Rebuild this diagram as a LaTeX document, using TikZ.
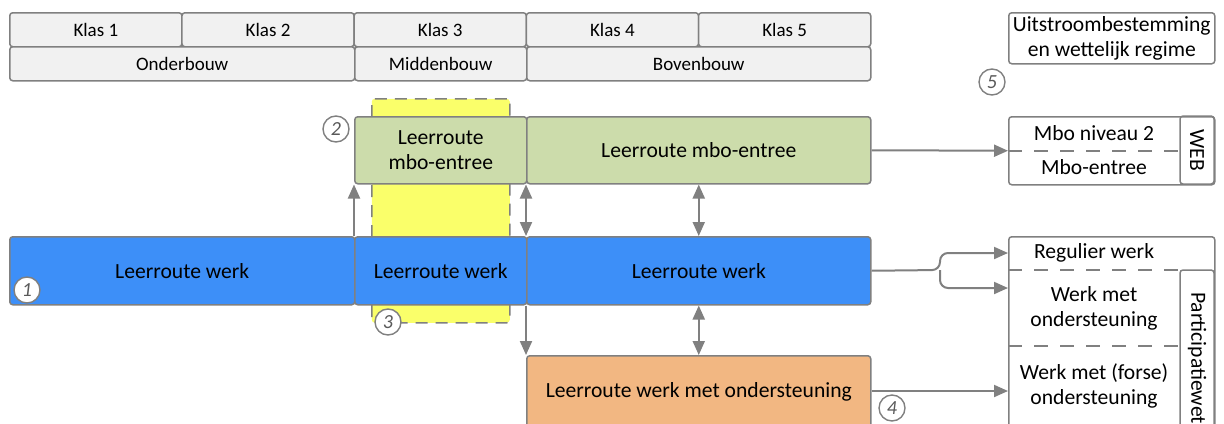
\documentclass[tikz,border=0pt]{standalone}
\usepackage{fontspec}
\setmainfont{Carlito}
\usetikzlibrary{arrows.meta,% filled triangle tips
calc}
\definecolor{rim}{HTML}{808080}
\definecolor{hdrgray}{HTML}{F1F1F1}
\definecolor{routegroen}{HTML}{CCDCAB}
\definecolor{routeblauw}{HTML}{3D8FF8}
\definecolor{routeoranje}{HTML}{F2B782}
\definecolor{routegeel}{HTML}{FAFF6A}
\tikzset{every node/.style={font=\fontsize{10.8}{12.5}\selectfont},
  >={Triangle[length=7pt,width=6pt]},
  sz/.style 2 args={minimum width=#1*0.5pt, minimum height=#2*0.5pt},
  box/.style={draw=rim, line width=0.75pt, rounded corners=1.5pt,
    anchor=north west, inner sep=0pt, align=center},
  hdr/.style={box, fill=hdrgray, font=\fontsize{9.5}{11}\selectfont},
  txt/.style={align=center, inner sep=0pt},
  col/.style={draw=rim, line width=0.75pt, rounded corners=1.5pt,
    inner sep=0pt, rotate=-90},
  sep/.style={draw=rim, line width=0.75pt, dash pattern=on 7pt off 6pt},
  pijl/.style={draw=rim, line width=1pt},
  nr/.style={circle, draw=rim, fill=white, line width=0.7pt, inner sep=0pt,
    minimum size=13pt, text=black!65, font=\fontsize{10}{10}\selectfont\itshape}}

\begin{document}
\begin{tikzpicture}[x=0.5pt,y=-0.5pt]
\useasboundingbox (0,0) rectangle (1224,423);
% header
\foreach \i in {1,...,5}
  \node[hdr, sz={172.2}{34}] (k\i) at ({9+172.2*(\i-1)},12) {Klas \i};
\node[hdr, sz={345}{34}] (onder) at (9,46) {Onderbouw};
\node[hdr, sz={172}{34}] (midden) at (354,46) {Middenbouw};
\node[hdr, sz={344}{34}] (boven) at (526,46) {Bovenbouw};
% yellow band behind klas 3
\node[box, sep, dash pattern=on 6pt off 4pt, fill=routegeel, sz={138}{224}] (geel) at (371,98) {};
% routes
\node[box, fill=routegroen, sz={172}{67}] (g1) at (354,116) {Leerroute\\mbo-entree};
\node[box, fill=routegroen, sz={344}{67}] (g2) at (526,116) {Leerroute mbo-entree};
\node[box, fill=routeblauw, sz={345}{68}] (b1) at (9,236) {Leerroute werk};
\node[box, fill=routeblauw, sz={172}{68}] (b2) at (354,236) {Leerroute werk};
\node[box, fill=routeblauw, sz={344}{68}] (b3) at (526,236) {Leerroute werk};
\node[box, fill=routeoranje, sz={344}{72}] (org) at (526,355)
  {Leerroute werk met ondersteuning};
% uitstroom
\node[box, sz={206}{51}] (uit) at (1008,12) {Uitstroombestemming\\en wettelijk regime};
\node[box, sz={206}{68}] (mbo) at (1008,116) {};
\node[col, sz={68}{34}] (web) at (1197,150) {WEB};
\node[txt] (mbo2) at (1094,133) {Mbo niveau 2};
\node[txt] (mboe) at (1094,167) {Mbo-entree};
\draw[sep] (mbo.west) -- +(172,0);
\node[box, sz={206}{210}] (pw) at (1008,236) {};
\node[col, sz={176}{34}] (pwcol) at (1197,358) {Participatiewet};
\node[txt] (reg) at (1094,253) {Regulier werk};
\node[txt] (wmo) at (1094,308) {Werk met\\ondersteuning};
\node[txt] (wmf) at (1094,386) {Werk met (forse)\\ondersteuning};
\draw[sep] (1008,270) -- (1180,270);
\draw[sep] (1008,346) -- (1180,346);
\coordinate (inreg) at (1008,253);
\coordinate (inwmo) at (1008,288);
\coordinate (inwmf) at (1008,391);
\coordinate (fork) at (940,270);
% connectors
\draw[pijl,->] (b2.north west) -- (g1.south west);
\draw[pijl,<->] (g2.south west) -- (b3.north west);
\draw[pijl,<->] (g2.south) -- (b3.north);
\draw[pijl,->] (b3.south west) -- (org.north west);
\draw[pijl,<->] (b3.south) -- (org.north);
\draw[pijl,->] (g2.east) -- (mbo.west);
\draw[pijl,->,rounded corners=4pt] (b3.east) -- (fork) |- (inreg);
\draw[pijl,->,rounded corners=4pt] (fork) |- (inwmo);
\draw[pijl,->] (org.east |- inwmf) -- (inwmf);
% numbers
\node[nr] (n1) at (27,290) {1};
\node[nr] (n2) at (336,129) {2};
\node[nr] (n3) at (388,322) {3};
\node[nr] (n4) at (892,408) {4};
\node[nr] (n5) at (992,82) {5};
\end{tikzpicture}
\end{document}
